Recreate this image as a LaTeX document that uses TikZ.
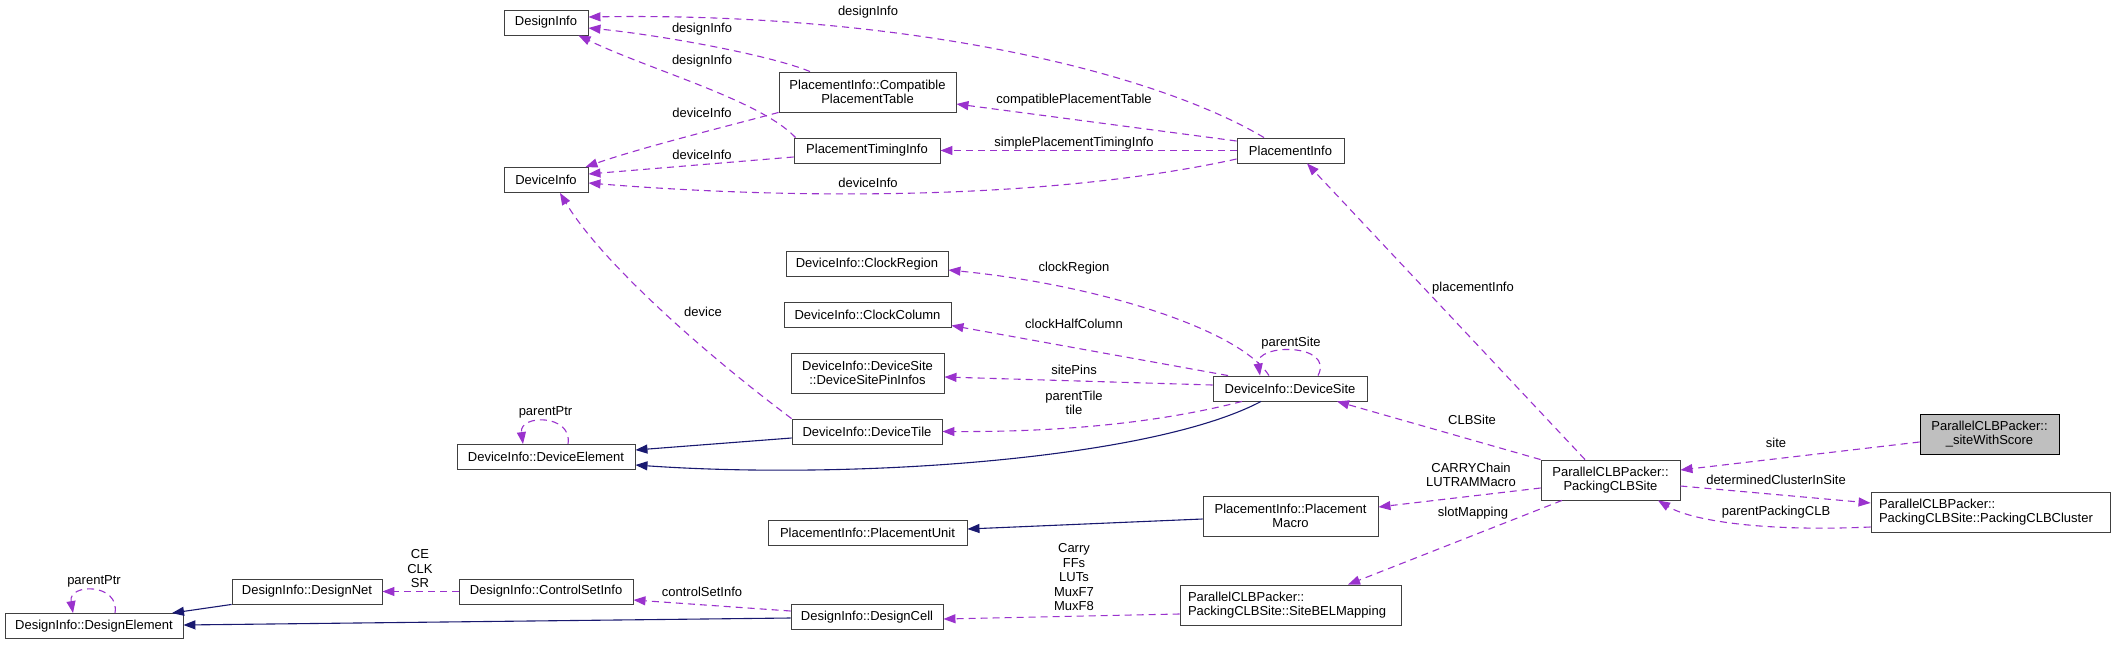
\documentclass[tikz,border=0pt]{standalone}
\usepackage{fontspec}
\setmainfont{Liberation Sans}
\usetikzlibrary{arrows.meta,calc}
\definecolor{purp}{HTML}{9A32CD}
\definecolor{navy}{HTML}{191970}
\definecolor{boxgray}{HTML}{BFBFBF}
\definecolor{edgegray}{HTML}{404040}
\tikzset{
  box/.style={draw=edgegray, line width=0.9pt, fill=white, inner sep=0pt, align=center,
    font=\fontsize{13}{14.5}\selectfont},
  lbox/.style={box, align=left},
  lbl/.style={inner sep=0pt, align=center, font=\fontsize{13}{14.5}\selectfont, text=black},
  dep/.style={draw=purp, line width=1.1pt, dash pattern=on 7pt off 5pt, -{Triangle[length=12pt,width=9pt]}},
  inh/.style={draw=navy, line width=1.1pt, -{Triangle[length=12pt,width=9pt]}},
}
\begin{document}
\begin{tikzpicture}[x=1pt,y=-1pt]
\useasboundingbox (0,0) rectangle (2115,645);
% nodes
\node[box, minimum width=84pt, minimum height=25pt] (DesignInfo) at (546,22.5) {DesignInfo};
\node[box, minimum width=84pt, minimum height=25pt] (DeviceInfo) at (546,180) {DeviceInfo};
\node[box, minimum width=177pt, minimum height=40pt] (Compat) at (867.5,92) {PlacementInfo::Compatible\\PlacementTable};
\node[box, minimum width=146pt, minimum height=25pt] (PTiming) at (867,150.5) {PlacementTimingInfo};
\node[box, minimum width=107pt, minimum height=25pt] (PInfo) at (1290.5,150.5) {PlacementInfo};
\node[box, minimum width=162pt, minimum height=25pt] (ClockRegion) at (867,264) {DeviceInfo::ClockRegion};
\node[box, minimum width=167pt, minimum height=25pt] (ClockColumn) at (867.5,314.5) {DeviceInfo::ClockColumn};
\node[box, minimum width=153pt, minimum height=40pt] (PinInfos) at (867.5,373) {DeviceInfo::DeviceSite\\::DeviceSitePinInfos};
\node[box, minimum width=154pt, minimum height=25pt] (DeviceSite) at (1290,388.5) {DeviceInfo::DeviceSite};
\node[box, minimum width=150pt, minimum height=25pt] (DeviceTile) at (867,431.5) {DeviceInfo::DeviceTile};
\node[box, minimum width=178pt, minimum height=25pt] (DeviceElement) at (546,457) {DeviceInfo::DeviceElement};
\node[box, minimum width=139pt, minimum height=40pt] (PackSite) at (1610.5,480) {ParallelCLBPacker::\\PackingCLBSite};
\node[box, fill=boxgray, draw=black, minimum width=139pt, minimum height=40pt] (SiteScore) at (1989.5,434) {ParallelCLBPacker::\\\_siteWithScore};
\node[lbox, minimum width=239pt, minimum height=40pt, text width=223pt] (Cluster) at (1990.5,512) {ParallelCLBPacker::\\PackingCLBSite::PackingCLBCluster};
\node[box, minimum width=175pt, minimum height=40pt] (PMacro) at (1290.5,516) {PlacementInfo::Placement\\Macro};
\node[box, minimum width=199pt, minimum height=25pt] (PUnit) at (867.5,533) {PlacementInfo::PlacementUnit};
\node[box, minimum width=150pt, minimum height=25pt] (DesignNet) at (307,591.5) {DesignInfo::DesignNet};
\node[box, minimum width=174pt, minimum height=25pt] (CtrlSet) at (546,591.5) {DesignInfo::ControlSetInfo};
\node[box, minimum width=178pt, minimum height=25pt] (DesignElement) at (94,626) {DesignInfo::DesignElement};
\node[box, minimum width=152pt, minimum height=25pt] (DesignCell) at (867,617) {DesignInfo::DesignCell};
\node[lbox, minimum width=221pt, minimum height=40pt, text width=205pt] (BELMap) at (1290.5,605) {ParallelCLBPacker::\\PackingCLBSite::SiteBELMapping};
% labels
\node[lbl] (l1) at (868,12) {designInfo};
\node[lbl] (l2) at (702,29) {designInfo};
\node[lbl] (l3) at (702,61) {designInfo};
\node[lbl] (l4) at (702,113) {deviceInfo};
\node[lbl] (l5) at (702,155) {deviceInfo};
\node[lbl] (l6) at (868,183) {deviceInfo};
\node[lbl] (l7) at (1074,100) {compatiblePlacementTable};
\node[lbl] (l8) at (1074,143) {simplePlacementTimingInfo};
\node[lbl] (l9) at (1473,288) {placementInfo};
\node[lbl] (l10) at (703,312) {device};
\node[lbl] (l11) at (1074,268) {clockRegion};
\node[lbl] (l12) at (1074,324) {clockHalfColumn};
\node[lbl] (l13) at (1291,343) {parentSite};
\node[lbl] (l14) at (1074,370) {sitePins};
\node[lbl] (l15) at (1074,403) {parentTile\\tile};
\node[lbl] (l16) at (545.5,412) {parentPtr};
\node[lbl] (l17) at (1472,420) {CLBSite};
\node[lbl] (l18) at (1471,475) {CARRYChain\\LUTRAMMacro};
\node[lbl] (l19) at (1473,513) {slotMapping};
\node[lbl] (l20) at (1776,443) {site};
\node[lbl] (l21) at (1776,480) {determinedClusterInSite};
\node[lbl] (l22) at (1776,512) {parentPackingCLB};
\node[lbl] (l23) at (1074,577.5) {Carry\\FFs\\LUTs\\MuxF7\\MuxF8};
\node[lbl] (l24) at (420,569) {CE\\CLK\\SR};
\node[lbl] (l25) at (702,592) {controlSetInfo};
\node[lbl] (l26) at (94,581) {parentPtr};
% dependency edges
\draw[dep] ($(PInfo.north)+(-26.5,0)$) .. controls (1150,70) and (900,12) .. ($(DesignInfo.east)+(0,-5.5)$);
\draw[dep] ($(Compat.north)+(-57.5,0)$) .. controls (770,55) and (660,35) .. ($(DesignInfo.east)+(0,5.5)$);
\draw[dep] ($(PTiming.north west)+(2,0)$) .. controls (760,100) and (650,70) .. ($(DesignInfo.south east)+(-10,0)$);
\draw[dep] (Compat.south west) .. controls (720,128) and (640,148) .. ($(DeviceInfo.north east)+(-3,0)$);
\draw[dep] ($(PTiming.west)+(0,6.5)$) -- ($(DeviceInfo.east)+(0,-6)$);
\draw[dep] ($(PInfo.west)+(0,8.5)$) .. controls (1050,200) and (800,200) .. ($(DeviceInfo.east)+(0,3)$);
\draw[dep] ($(PInfo.west)+(0,-9.5)$) -- ($(Compat.east)+(0,12)$);
\draw[dep] (PInfo.west) -- (PTiming.east);
\draw[dep] (DeviceTile.north west) .. controls (700,350) and (600,260) .. ($(DeviceInfo.south)+(14,0)$);
\draw[dep] ($(DeviceSite.north)+(-21,0)$) .. controls (1240,330) and (1100,285) .. ($(ClockRegion.east)+(0,6)$);
\draw[dep] ($(DeviceSite.north)+(-62,0)$) -- ($(ClockColumn.east)+(0,11)$);
\draw[dep] ($(DeviceSite.west)+(0,-3.5)$) -- ($(PinInfos.east)+(0,4)$);
\draw[dep] ($(DeviceSite.south)+(-48,0)$) .. controls (1150,425) and (1050,432) .. (DeviceTile.east);
\draw[dep] ($(DeviceSite.north)+(28,0)$) .. controls (1335,343) and (1255,343) .. ($(DeviceSite.north)+(-30,0)$);
\draw[dep] ($(DeviceElement.north)+(22,0)$) .. controls (573,414) and (519,414) .. ($(DeviceElement.north)+(-23,0)$);
\draw[dep] ($(PackSite.north)+(-25.5,0)$) -- ($(PInfo.south)+(16.5,0)$);
\draw[dep] (PackSite.north west) -- ($(DeviceSite.south)+(47,0)$);
\draw[dep] ($(PackSite.west)+(0,8)$) -- ($(PMacro.east)+(0,-9)$);
\draw[dep] ($(PackSite.south)+(-48.5,0)$) -- ($(BELMap.north)+(57.5,0)$);
\draw[dep] ($(SiteScore.west)+(0,8)$) -- ($(PackSite.east)+(0,-10)$);
\draw[dep] ($(PackSite.east)+(0,6)$) -- ($(Cluster.west)+(0,-9)$);
\draw[dep] ($(Cluster.west)+(0,15)$) .. controls (1760,532) and (1690,520) .. ($(PackSite.south)+(47.5,0)$);
\draw[dep] ($(BELMap.west)+(0,9)$) -- ($(DesignCell.east)+(0,2)$);
\draw[dep] ($(DesignCell.west)+(0,-6)$) -- ($(CtrlSet.east)+(0,8.5)$);
\draw[dep] (CtrlSet.west) -- (DesignNet.east);
\draw[dep] ($(DesignElement.north)+(21,0)$) .. controls (120,583) and (68,583) .. ($(DesignElement.north)+(-21,0)$);
% inheritance edges
\draw[inh] ($(DeviceTile.west)+(0,6.5)$) -- ($(DeviceElement.east)+(0,-7)$);
\draw[inh] ($(DeviceSite.south)+(-29,0)$) .. controls (1150,460) and (850,480) .. ($(DeviceElement.east)+(0,8)$);
\draw[inh] ($(PMacro.west)+(0,3)$) -- ($(PUnit.east)+(0,-4)$);
\draw[inh] ($(DesignCell.west)+(0,1)$) -- ($(DesignElement.east)+(0,-1)$);
\draw[inh] (DesignNet.south west) -- ($(DesignElement.north)+(78,0)$);
\end{tikzpicture}
\end{document}
